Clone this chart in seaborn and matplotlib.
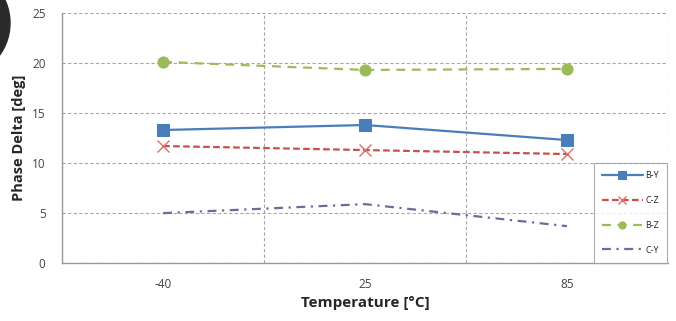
import numpy as np
import pandas as pd
import matplotlib.pyplot as plt
import seaborn as sns
from matplotlib.patches import Circle
from matplotlib.ticker import FixedLocator

sns.set_style("white")
plt.rcParams["font.family"] = ["Open Sans", "DejaVu Sans"]

# ---------------- data ----------------
temps = ["-40", "25", "85"]
b_y = [13.3, 13.8, 12.3]
c_z = [11.7, 11.3, 10.9]
b_z = [20.1, 19.3, 19.4]
c_y = [5.0, 5.9, 3.7]

series = {"B-Y": b_y, "C-Z": c_z, "B-Z": b_z, "C-Y": c_y}
styles = {
    "B-Y": dict(color="#4a7ebb", linestyle="-", marker="s", markersize=8,
                markeredgecolor="#4a7ebb", lw=1.6),
    "C-Z": dict(color="#c9504b", linestyle=(0, (3, 1.5)), marker="x", markersize=9,
                markeredgecolor="#d9706b", markeredgewidth=1.0, lw=1.6),
    "B-Z": dict(color="#9bbb59", linestyle=(0, (4, 3)), marker="o", markersize=8,
                markeredgecolor="#9bbb59", lw=1.6),
    "C-Y": dict(color="#6b6b9c", linestyle=(0, (4, 2.5, 1, 2.5)), marker=None, lw=1.6),
}

fig, ax = plt.subplots(figsize=(6.76, 3.21), dpi=100)
fig.subplots_adjust(left=0.092, right=0.988, top=0.96, bottom=0.18)

x = np.arange(len(temps))
for name, vals in series.items():
    st = styles[name]
    sns.lineplot(x=x, y=vals, ax=ax, label=name, **st)

ax.set_xlim(-0.5, 2.5)
ax.set_ylim(0, 25)
ax.set_yticks([0, 5, 10, 15, 20, 25])
ax.set_xticks(x)
ax.set_xticklabels(temps)
ax.xaxis.set_minor_locator(FixedLocator([-0.5, 0.5, 1.5, 2.5]))
ax.tick_params(axis="x", which="major", length=0, labelsize=8.5, labelcolor="#444444", pad=11)
ax.tick_params(axis="x", which="minor", length=4, color="#999999", direction="out")
ax.tick_params(axis="y", length=4, color="#999999", labelsize=8.5, labelcolor="#444444",
               direction="out", pad=8)

ax.grid(axis="y", which="major", linestyle=(0, (3, 2)), color="#a8a8a8", lw=0.8)
ax.grid(axis="x", which="minor", linestyle=(0, (3, 2)), color="#a8a8a8", lw=0.8)
ax.set_axisbelow(True)
for s in ["top", "right"]:
    ax.spines[s].set_visible(False)
for s in ["left", "bottom"]:
    ax.spines[s].set_color("#999999")
    ax.spines[s].set_linewidth(1.0)

ax.set_xlabel("Temperature [°C]", fontsize=11, fontweight="bold", labelpad=3)
ax.set_ylabel("Phase Delta [deg]", fontsize=10.5, fontweight="bold", labelpad=4)

leg = ax.legend(loc="lower right", fontsize=6.5, frameon=True, fancybox=False,
                borderaxespad=0.05, handlelength=4.6, labelspacing=1.75,
                borderpad=0.9, handletextpad=0.25, markerscale=0.65)
leg.get_frame().set_edgecolor("#999999")
leg.get_frame().set_linewidth(0.8)

# dark blob at the top-left corner of the picture
fig.patches.append(Circle((-45, 298), 55, transform=None, color="#2a2a2a",
                          zorder=10))

plt.savefig("out.png", dpi=100)
